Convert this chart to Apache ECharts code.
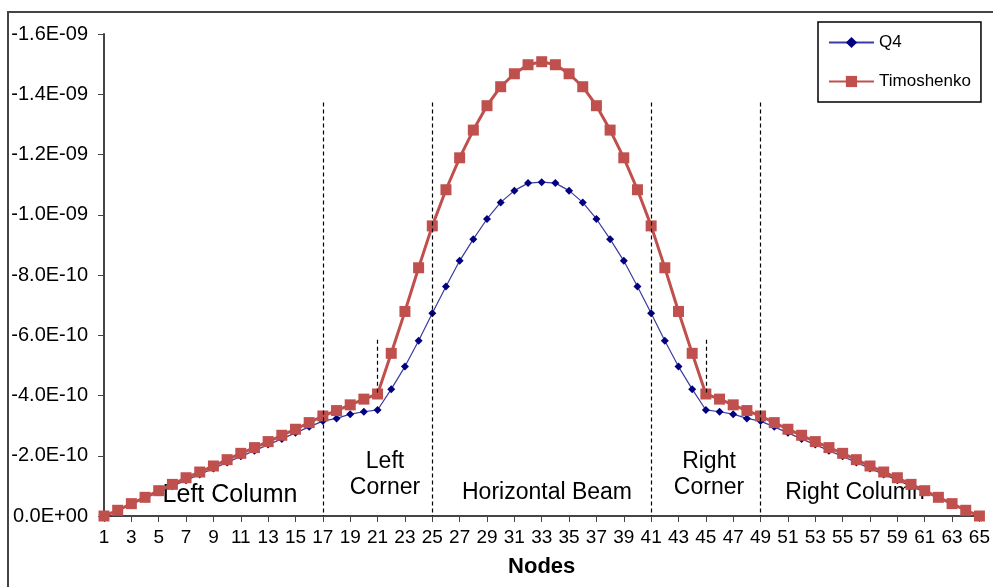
<!DOCTYPE html>
<html>
<head>
<meta charset="utf-8">
<title>Q4 vs Timoshenko</title>
<script src="https://cdn.jsdelivr.net/npm/echarts@6/dist/echarts.min.js"></script>
<style>
  html, body { margin: 0; padding: 0; background: #fff; }
  #main { width: 993px; height: 587px; }
</style>
</head>
<body>
<div id="main"></div>
<script>
// node numbers along the frame
var nodes = [];
for (var i = 1; i <= 65; i++) nodes.push(String(i));

// displacements, in units of 1e-10 (magnitude, plotted as negative)
var q4 = [0, 0.19, 0.39, 0.59, 0.79, 0.99, 1.19, 1.38, 1.58, 1.78,
  1.98, 2.17, 2.37, 2.56, 2.76, 2.96, 3.15, 3.24, 3.38, 3.46,
  3.52, 4.21, 4.96, 5.82, 6.73, 7.62, 8.47, 9.19, 9.86, 10.41,
  10.80, 11.05, 11.08, 11.05, 10.80, 10.41, 9.86, 9.19, 8.47, 7.62,
  6.73, 5.82, 4.96, 4.21, 3.52, 3.46, 3.38, 3.24, 3.15, 2.96,
  2.76, 2.56, 2.37, 2.17, 1.98, 1.78, 1.58, 1.38, 1.19, 0.99,
  0.79, 0.59, 0.39, 0.19, 0];
var timoshenko = [0, 0.19, 0.41, 0.62, 0.84, 1.05, 1.27, 1.46, 1.66, 1.87,
  2.08, 2.27, 2.47, 2.68, 2.88, 3.10, 3.32, 3.50, 3.69, 3.88,
  4.05, 5.40, 6.79, 8.24, 9.63, 10.83, 11.89, 12.81, 13.62, 14.25,
  14.68, 14.98, 15.08, 14.98, 14.68, 14.25, 13.62, 12.81, 11.89, 10.83,
  9.63, 8.24, 6.79, 5.40, 4.05, 3.88, 3.69, 3.50, 3.32, 3.10,
  2.88, 2.68, 2.47, 2.27, 2.08, 1.87, 1.66, 1.46, 1.27, 1.05,
  0.84, 0.62, 0.41, 0.19, 0];

// region boundaries (dashed lines)
var longDashNodes = ['17', '25', '41', '49'];
var shortDashNodes = ['21', '45'];

var UNIT = -1e-10;
function toValue(arr) {
  return arr.map(function (v) { return v * UNIT; });
}

function sci(v) {
  if (Math.abs(v) < 1e-20) return '0.0E+00';
  var parts = v.toExponential(1).split('e');
  var e = parts[1];
  return parts[0] + 'E' + e[0] + e.slice(1).padStart(2, '0');
}

var dashLines = [];
longDashNodes.forEach(function (n) {
  dashLines.push([{ coord: [n, -1.373e-9] }, { coord: [n, 0] }]);
});
shortDashNodes.forEach(function (n) {
  dashLines.push([{ coord: [n, -5.85e-10] }, { coord: [n, -4.1e-10] }]);
});

var font = 'Liberation Sans, Arial, sans-serif';
var chart = echarts.init(document.getElementById('main'));

var option = {
  animation: false,
  backgroundColor: '#fff',
  grid: { left: 104, right: 12, top: 34, bottom: 71 },
  legend: {
    orient: 'vertical',
    left: 818,
    top: 22,
    padding: [12, 10, 12, 10],
    itemGap: 22,
    itemWidth: 45,
    itemHeight: 14,
    borderColor: '#000',
    borderWidth: 1.5,
    textStyle: { fontFamily: font, fontSize: 17, color: '#000' },
    data: ['Q4', 'Timoshenko']
  },
  xAxis: {
    type: 'category',
    data: nodes,
    boundaryGap: false,
    name: 'Nodes',
    nameLocation: 'middle',
    nameGap: 40,
    nameTextStyle: { fontFamily: font, fontSize: 22, fontWeight: 'bold', color: '#000' },
    axisLine: { lineStyle: { color: '#444', width: 2 } },
    axisTick: { interval: 1, length: 6, lineStyle: { color: '#444' } },
    axisLabel: { interval: 1, margin: 12, fontFamily: font, fontSize: 19, color: '#000' },
    splitLine: { show: false }
  },
  yAxis: {
    type: 'value',
    inverse: true,
    min: -1.6e-9,
    max: 0,
    interval: 2e-10,
    axisLine: { show: true, lineStyle: { color: '#444', width: 2 } },
    axisTick: { show: true, length: 6, lineStyle: { color: '#444' } },
    axisLabel: { margin: 16, fontFamily: font, fontSize: 20, color: '#000', formatter: sci },
    splitLine: { show: false }
  },
  series: [
    {
      name: 'Q4',
      type: 'line',
      data: toValue(q4),
      symbol: 'diamond',
      symbolSize: 8,
      showAllSymbol: true,
      itemStyle: { color: '#000080' },
      lineStyle: { color: '#3a3aa0', width: 1.2 },
      markLine: {
        silent: true,
        symbol: 'none',
        label: { show: false },
        lineStyle: { color: '#000', type: [4, 3], width: 1.2 },
        data: dashLines
      }
    },
    {
      name: 'Timoshenko',
      type: 'line',
      data: toValue(timoshenko),
      symbol: 'rect',
      symbolSize: 11,
      showAllSymbol: true,
      itemStyle: { color: '#c0504d' },
      lineStyle: { color: '#c0504d', width: 3 }
    }
  ],
  graphic: [
    {
      type: 'rect', z: -1, silent: true,
      shape: { x: 8, y: 12, width: 1000, height: 600 },
      style: { fill: 'none', stroke: '#444', lineWidth: 2 }
    },
    { type: 'text', x: 230, y: 495, style: { text: 'Left Column', font: '25px ' + font, fill: '#000', align: 'center', verticalAlign: 'middle' } },
    { type: 'text', x: 385, y: 475, style: { text: 'Left\nCorner', font: '23px ' + font, fill: '#000', align: 'center', verticalAlign: 'middle', lineHeight: 26 } },
    { type: 'text', x: 547, y: 493, style: { text: 'Horizontal Beam', font: '23px ' + font, fill: '#000', align: 'center', verticalAlign: 'middle' } },
    { type: 'text', x: 709, y: 475, style: { text: 'Right\nCorner', font: '23px ' + font, fill: '#000', align: 'center', verticalAlign: 'middle', lineHeight: 26 } },
    { type: 'text', x: 855, y: 493, style: { text: 'Right Column', font: '23px ' + font, fill: '#000', align: 'center', verticalAlign: 'middle' } }
  ]
};

chart.setOption(option);
</script>
</body>
</html>
